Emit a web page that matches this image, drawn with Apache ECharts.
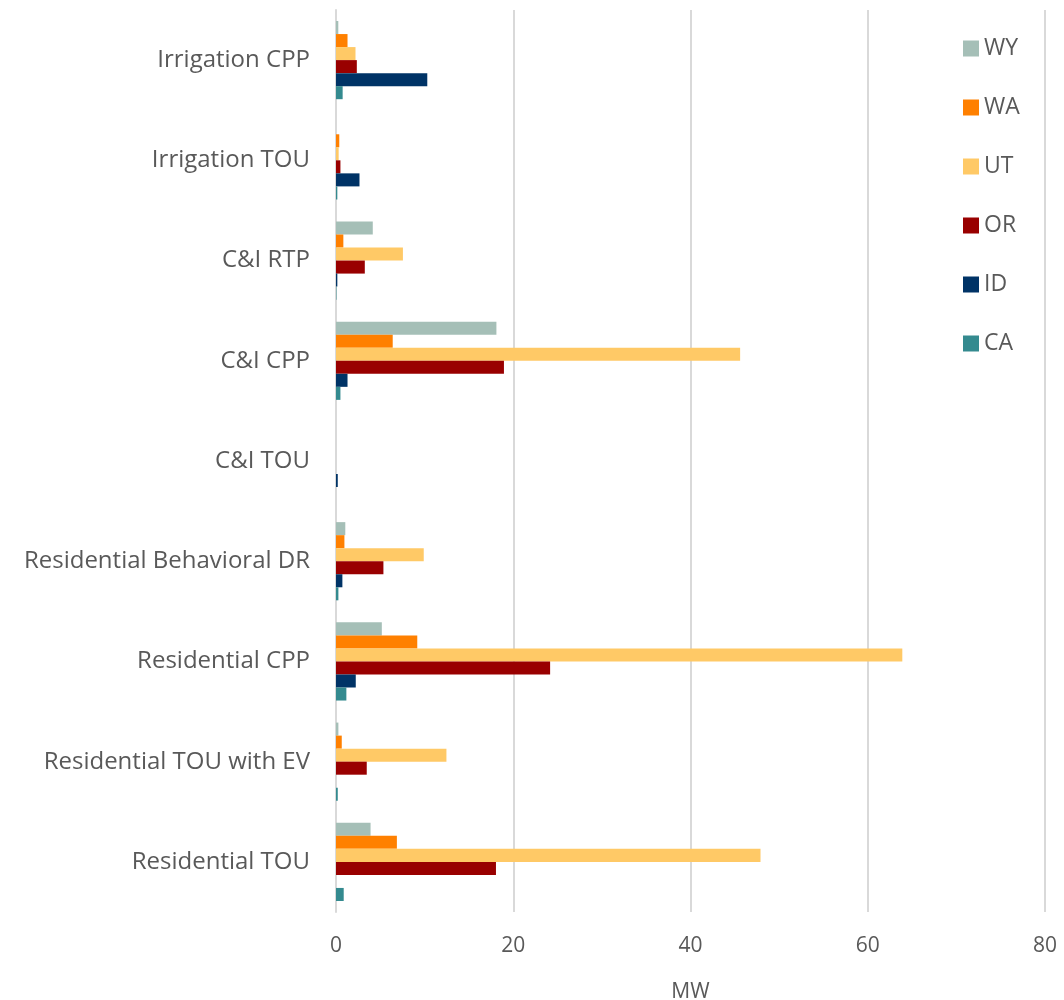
<!DOCTYPE html>
<html>
<head>
<meta charset="utf-8">
<script src="https://cdn.jsdelivr.net/npm/echarts@6/dist/echarts.min.js"></script>
<style>
  html, body { margin: 0; padding: 0; background: #fff; }
  #chart { width: 1064px; height: 1000px; }
</style>
</head>
<body>
<div id="chart"></div>
<script>
// categories, bottom to top
const categories = [
  'Residential TOU', 'Residential TOU with EV', 'Residential CPP',
  'Residential Behavioral DR', 'C&I TOU', 'C&I CPP', 'C&I RTP',
  'Irrigation TOU', 'Irrigation CPP'
];
const caValues = [0.87, 0.2, 1.17, 0.27, 0, 0.5, 0.05, 0.15, 0.75];
const idValues = [0, 0, 2.23, 0.72, 0.2, 1.3, 0.15, 2.65, 10.3];
const orValues = [18.05, 3.47, 24.16, 5.35, 0, 18.95, 3.25, 0.5, 2.35];
const utValues = [47.9, 12.46, 63.9, 9.9, 0, 45.6, 7.55, 0.3, 2.2];
const waValues = [6.87, 0.65, 9.17, 0.95, 0, 6.4, 0.83, 0.37, 1.3];
const wyValues = [3.9, 0.27, 5.17, 1.05, 0, 18.1, 4.15, 0, 0.26];
const xTicks = [0, 20, 40, 60, 80];

const font = '"Open Sans", sans-serif';
const textColor = '#595959';

// first series is drawn on top within each category
const seriesDefs = [
  { name: 'WY', data: wyValues, color: '#A5BFB7' },
  { name: 'WA', data: waValues, color: '#FF8000' },
  { name: 'UT', data: utValues, color: '#FFC966' },
  { name: 'OR', data: orValues, color: '#990000' },
  { name: 'ID', data: idValues, color: '#003366' },
  { name: 'CA', data: caValues, color: '#348A8F' }
];

const chart = echarts.init(document.getElementById('chart'));
chart.setOption({
  animation: false,
  textStyle: { fontFamily: font },
  grid: { left: 336, right: 19, top: 10, bottom: 88, containLabel: false, outerBoundsMode: 'none' },
  legend: {
    orient: 'vertical',
    left: 958,
    top: 32,
    itemWidth: 16,
    itemHeight: 16,
    itemGap: 36,
    icon: 'rect',
    data: ['WY', 'WA', 'UT', 'OR', 'ID', 'CA'],
    textStyle: { fontFamily: font, fontSize: 23, color: textColor }
  },
  xAxis: {
    type: 'value',
    min: xTicks[0],
    max: xTicks[xTicks.length - 1],
    interval: 20,
    name: 'MW',
    nameLocation: 'middle',
    nameGap: 70,
    nameTextStyle: { fontFamily: font, fontSize: 21, color: textColor },
    axisLine: { show: false },
    axisTick: { show: false },
    axisLabel: { fontSize: 21, color: textColor, margin: 24 },
    splitLine: { show: true, lineStyle: { color: '#D9D9D9', width: 2 } }
  },
  yAxis: {
    type: 'category',
    data: categories,
    axisLine: { show: true, lineStyle: { color: '#D9D9D9', width: 2 } },
    axisTick: { show: false },
    axisLabel: { fontSize: 24, color: textColor, margin: 26, padding: [4, 0, 0, 0] }
  },
  series: seriesDefs.map(s => ({
    name: s.name,
    type: 'bar',
    data: s.data,
    barGap: '0%',
    barCategoryGap: '22%',
    itemStyle: { color: s.color }
  }))
});
</script>
</body>
</html>
